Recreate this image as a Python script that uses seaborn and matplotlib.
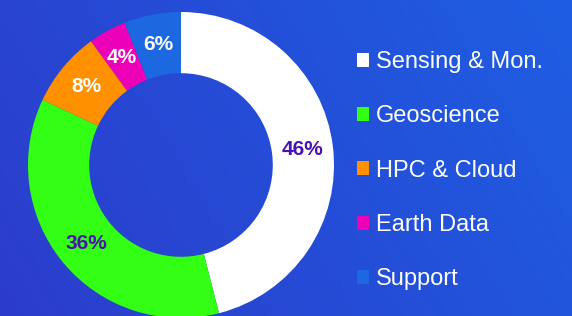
import numpy as np
import seaborn as sns
import matplotlib.pyplot as plt
from matplotlib.patches import Patch

# segment data
categories = ['Sensing & Mon.', 'Geoscience', 'HPC & Cloud', 'Earth Data', 'Support']
shares = [46, 36, 8, 4, 6]
seg_colors = ['#ffffff', '#33ff14', '#ff9100', '#ec00b8', '#1b68e0']
label_colors = ['#4a10b0', '#4a10b0', '#ffffff', '#ffffff', '#ffffff']

sns.set_style('white')
plt.rcParams['font.family'] = ['Liberation Sans', 'DejaVu Sans']

fig = plt.figure(figsize=(5.72, 3.16), dpi=100)

# gradient background
bg = fig.add_axes([0, 0, 1, 1])
xx, yy = np.meshgrid(np.linspace(0, 1, 200), np.linspace(0, 1, 120))
t = 0.75 * xx + 0.25 * (1 - yy)
c0 = np.array([0x2c, 0x3c, 0xcc]) / 255
c1 = np.array([0x1e, 0x5e, 0xe2]) / 255
img = c0[None, None, :] * (1 - t[..., None]) + c1[None, None, :] * t[..., None]
bg.imshow(img, aspect='auto', extent=[0, 1, 0, 1], origin='upper')
bg.axis('off')

# donut
W, H = 572, 316
cx, cy, R = 181, 165, 153
ax = fig.add_axes([(cx - R) / W, (H - cy - R) / H, 2 * R / W, 2 * R / H])
palette = sns.color_palette(seg_colors)
wedges, texts, autotexts = ax.pie(
    shares, colors=palette, startangle=90, counterclock=False,
    wedgeprops=dict(width=0.4, linewidth=0),
    autopct='%d%%', pctdistance=0.8,
    textprops=dict(fontsize=15, fontweight='bold'))
for at, c in zip(autotexts, label_colors):
    at.set_color(c)
ax.set_xlim(-1, 1)
ax.set_ylim(-1, 1)
ax.set_aspect('equal')
ax.axis('off')

handles = [Patch(facecolor=c, edgecolor='none') for c in seg_colors]
fig.legend(handles, categories, loc='upper left', bbox_to_anchor=(357 / W, 1 - 51 / H),
           frameon=False, fontsize=17, labelcolor='white',
           handlelength=0.52, handleheight=0.52, handletextpad=0.28,
           labelspacing=1.37, borderpad=0, borderaxespad=0)

fig.savefig('out.png', dpi=100)
